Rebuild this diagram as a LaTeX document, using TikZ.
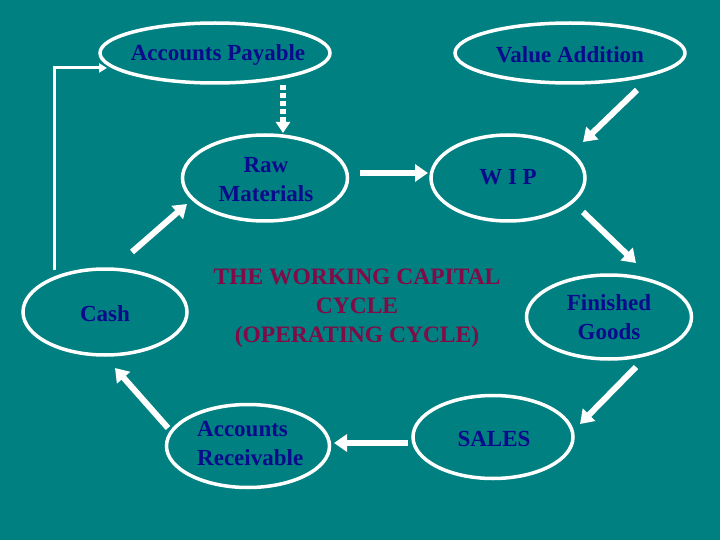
\documentclass[tikz,border=0pt]{standalone}
\usepackage{fontspec}
\setmainfont{Liberation Serif}
\usetikzlibrary{shapes.geometric,arrows.meta}
\definecolor{bgteal}{RGB}{0,128,128}
\definecolor{navytext}{RGB}{10,10,140}
\definecolor{maroontext}{RGB}{130,10,70}
\tikzset{
  oval/.style={ellipse, draw=white, line width=3.5pt, inner sep=0pt},
  txt/.style={text=navytext, font=\fontsize{23}{29}\selectfont\bfseries, align=center, inner sep=0pt},
  flow/.style={draw=white, line width=6pt, -{Triangle[width=17pt,length=13pt]}},
  dflow/.style={draw=white, line width=6pt, dash pattern=on 5pt off 3pt, -{Triangle[width=14pt,length=11pt]}},
  thinflow/.style={draw=white, line width=3pt, -{Triangle[width=9pt,length=8pt]}},
}
\begin{document}
\begin{tikzpicture}[x=1pt,y=-1pt]
\fill[bgteal] (0,0) rectangle (720,540);
\useasboundingbox (0,0) rectangle (720,540);

\node[oval, minimum width=230pt, minimum height=60pt] (ap) at (215,53) {};
\node[oval, minimum width=230pt, minimum height=60pt] (va) at (570,53) {};
\node[oval, minimum width=165pt, minimum height=86pt] (rm) at (265,178) {};
\node[oval, minimum width=154pt, minimum height=86pt] (wip) at (508,178) {};
\node[oval, minimum width=164pt, minimum height=86pt] (cash) at (105,312) {};
\node[oval, minimum width=165pt, minimum height=84pt] (fg) at (609,317) {};
\node[oval, minimum width=163pt, minimum height=83pt] (ar) at (248,446) {};
\node[oval, minimum width=160pt, minimum height=83pt] (sales) at (493,437) {};

\node[txt] (apT) at (218,55) {Accounts Payable};
\node[txt] (vaT) at (570,55) {Value Addition};
\node[txt] (rmT) at (266,180) {Raw\\Materials};
\node[txt] (wipT) at (508,177) {W I P};
\node[txt] (cashT) at (105,314) {Cash};
\node[txt] (fgT) at (609,317) {Finished\\Goods};
\node[txt, align=left, anchor=west] (arT) at (197,444) {Accounts\\Receivable};
\node[txt] (salesT) at (494,439) {SALES};

\node[text=maroontext, font=\fontsize{23.5}{29}\selectfont\bfseries, align=center, inner sep=0pt] (title) at (357,308)
  {THE WORKING CAPITAL\\CYCLE\\(OPERATING CYCLE)};

% connector end points
\coordinate (apS) at (283,85);
\coordinate (rmN) at (283,133);
\coordinate (vaA) at (637,90);
\coordinate (wipA) at (583,142);
\coordinate (rmE) at (360,173);
\coordinate (wipW) at (428,173);
\coordinate (wipB) at (583,212);
\coordinate (fgA) at (636,263);
\coordinate (fgB) at (636,367);
\coordinate (salesA) at (580,424);
\coordinate (salesW) at (408,443);
\coordinate (arE) at (334,443);
\coordinate (arA) at (168,428);
\coordinate (cashA) at (115,368);
\coordinate (cashB) at (132,252);
\coordinate (rmA) at (187,204);
\coordinate (cashN) at (54,270);
\coordinate (corner) at (54,68);
\coordinate (apW) at (107,68);

\draw[dflow] (apS) -- (rmN);
\draw[flow] (vaA) -- (wipA);
\draw[flow] (rmE) -- (wipW);
\draw[flow] (wipB) -- (fgA);
\draw[flow] (fgB) -- (salesA);
\draw[flow] (salesW) -- (arE);
\draw[flow] (arA) -- (cashA);
\draw[flow] (cashB) -- (rmA);
\draw[thinflow] (cashN) -- (corner) -- (apW);
\end{tikzpicture}
\end{document}
